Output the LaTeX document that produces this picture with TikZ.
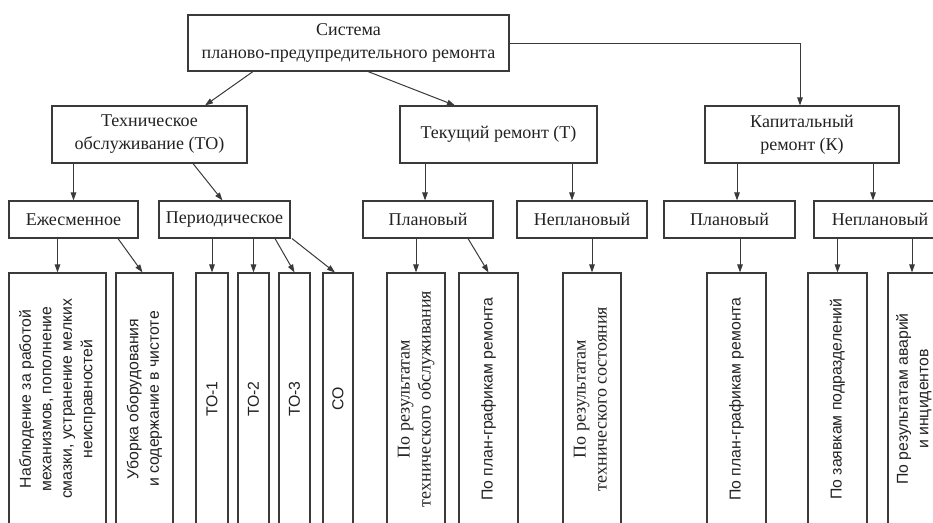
\documentclass[tikz,border=0pt]{standalone}
\usepackage{fontspec}
\setmainfont{Liberation Serif}
\newfontfamily\sansf{Liberation Sans}
\usetikzlibrary{arrows.meta}
\definecolor{ln}{HTML}{3A3A3A}
\definecolor{tx}{HTML}{222222}
\begin{document}
\begin{tikzpicture}[x=1pt,y=-1pt,
  box/.style={draw=ln, line width=1.1pt, fill=white, inner sep=0pt, align=center, text=tx,
    font=\fontsize{18}{23}\selectfont},
  lbox/.style={box, minimum height=252},
  arr/.style={-{Triangle[length=8pt,width=5.5pt]}, draw=ln, line width=1pt},
  sv/.style={font=\sansf\fontsize{15.8}{20.5}\selectfont},
  rv/.style={font=\fontsize{18}{21}\selectfont}]
\fill[white] (0,0) rectangle (933,522);
\useasboundingbox (0,0) rectangle (933,522);

% level 1
\node[box, minimum width=321, minimum height=56] (sys) at (348.5,43) {Система\\планово-предупредительного ремонта};
% level 2
\node[box, minimum width=195, minimum height=57] (to) at (149.5,134.5) {Техническое\\обслуживание (ТО)};
\node[box, minimum width=197, minimum height=57] (tek) at (498.5,134.5) {Текущий ремонт (Т)};
\node[box, minimum width=194, minimum height=57] (kap) at (802,134.5) {Капитальный\\ремонт (К)};
% level 3
\node[box, minimum width=129, minimum height=37] (e) at (73.5,219.5) {Ежесменное};
\node[box, minimum width=131, minimum height=37] (p) at (224.5,219.5) {Периодическое};
\node[box, minimum width=130, minimum height=37] (tp) at (428,219.5) {Плановый};
\node[box, minimum width=130, minimum height=37] (tn) at (582,219.5) {Неплановый};
\node[box, minimum width=131, minimum height=37] (kp) at (729.5,219.5) {Плановый};
\node[box, minimum width=132, minimum height=37] (kn) at (880,219.5) {Неплановый};
% level 4
\node[lbox, sv, minimum width=97] (b1) at (57.5,399) {\rotatebox{90}{\begin{tabular}{@{}c@{}}Наблюдение за работой\\механизмов, пополнение\\смазки, устранение мелких\\неисправностей\end{tabular}}};
\node[lbox, sv, minimum width=57] (b2) at (144.5,399) {\rotatebox{90}{\begin{tabular}{@{}c@{}}Уборка оборудования\\и содержание в чистоте\end{tabular}}};
\node[lbox, sv, minimum width=32] (to1) at (212,399) {\rotatebox{90}{ТО-1}};
\node[lbox, sv, minimum width=31] (to2) at (253.5,399) {\rotatebox{90}{ТО-2}};
\node[lbox, sv, minimum width=31] (to3) at (294.5,399) {\rotatebox{90}{ТО-3}};
\node[lbox, sv, minimum width=30] (co) at (338,399) {\rotatebox{90}{СО}};
\node[lbox, rv, minimum width=58] (r1) at (416,399) {\rotatebox{90}{\begin{tabular}{@{}c@{}}По результатам\\технического обслуживания\end{tabular}}};
\node[lbox, sv, minimum width=59] (r2) at (488.5,399) {\rotatebox{90}{По план-графикам ремонта}};
\node[lbox, rv, minimum width=58] (r3) at (592,399) {\rotatebox{90}{\begin{tabular}{@{}c@{}}По результатам\\технического состояния\end{tabular}}};
\node[lbox, sv, minimum width=59] (k1) at (736.5,399) {\rotatebox{90}{По план-графикам ремонта}};
\node[lbox, sv, minimum width=59] (k2) at (837.5,399) {\rotatebox{90}{По заявкам подразделений}};
\node[lbox, sv, minimum width=52] (k3) at (914,399) {\rotatebox{90}{\begin{tabular}{@{}c@{}}По результатам аварий\\и инцидентов\end{tabular}}};

% connectors level 1 -> 2
\draw[arr] ([xshift=-95.5]sys.south) -- ([xshift=55.5]to.north);
\draw[arr] ([xshift=19.5]sys.south) -- ([xshift=-43.5]tek.north);
\draw[arr] (sys.east) -| ([xshift=-2]kap.north);
% level 2 -> 3
\draw[arr] (e.north |- to.south) -- (e.north);
\draw[arr] ([xshift=43.5]to.south) -- ([xshift=-2]p.north);
\draw[arr] ([xshift=-3]tp.north |- tek.south) -- ([xshift=-3]tp.north);
\draw[arr] ([xshift=-10]tn.north |- tek.south) -- ([xshift=-10]tn.north);
\draw[arr] ([xshift=7.5]kp.north |- kap.south) -- ([xshift=7.5]kp.north);
\draw[arr] ([xshift=-7]kn.north |- kap.south) -- ([xshift=-7]kn.north);
% level 3 -> 4
\draw[arr] (b1.north |- e.south) -- (b1.north);
\draw[arr] ([xshift=44.5]e.south) -- ([xshift=-2]b2.north);
\draw[arr] (to1.north |- p.south) -- (to1.north);
\draw[arr] (to2.north |- p.south) -- (to2.north);
\draw[arr] ([xshift=50.5]p.south) -- (to3.north);
\draw[arr] ([xshift=67.5]p.south) -- ([xshift=-3]co.north);
\draw[arr] (r1.north |- tp.south) -- (r1.north);
\draw[arr] ([xshift=40]tp.south) -- (r2.north);
\draw[arr] (r3.north |- tn.south) -- (r3.north);
\draw[arr] ([xshift=3.5]k1.north |- kp.south) -- ([xshift=3.5]k1.north);
\draw[arr] (k2.north |- kn.south) -- (k2.north);
\draw[arr] ([xshift=-2]k3.north |- kn.south) -- ([xshift=-2]k3.north);
\end{tikzpicture}
\end{document}
